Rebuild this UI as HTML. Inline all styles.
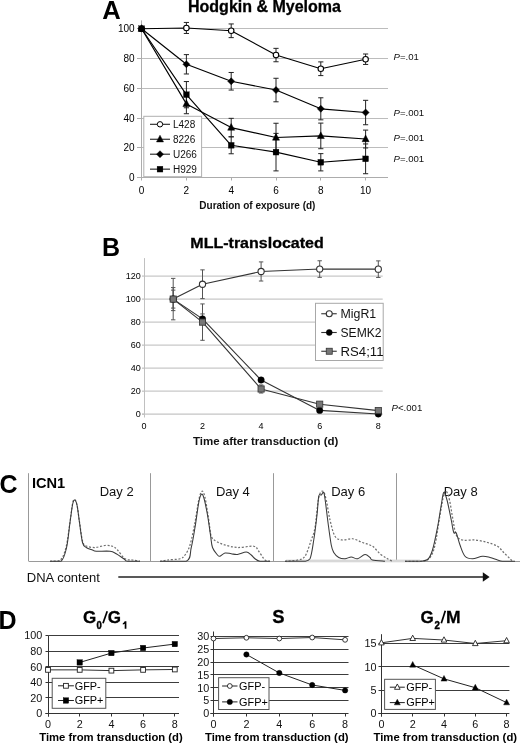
<!DOCTYPE html>
<html><head><meta charset="utf-8"><title>Figure</title>
<style>
html,body{margin:0;padding:0;background:#fff;}
body{width:520px;height:744px;overflow:hidden;}
svg text{font-family:"Liberation Sans", sans-serif;}
svg{will-change:transform;}
</style></head>
<body>
<svg width="520" height="744" viewBox="0 0 520 744" style="display:block">
<rect width="520" height="744" fill="#fff"/>
<text x="102.2" y="18.9" font-size="25.6" text-anchor="start" font-weight="bold" fill="#000"  style="">A</text>
<text x="188" y="12" font-size="16" text-anchor="start" font-weight="bold" fill="#000" stroke="#000" stroke-width="0.3" style="">Hodgkin &amp; Myeloma</text>
<line x1="141.5" y1="147.5" x2="388" y2="147.5" stroke="#bcbcbc" stroke-width="1" />
<line x1="141.5" y1="118.5" x2="388" y2="118.5" stroke="#bcbcbc" stroke-width="1" />
<line x1="141.5" y1="88.5" x2="388" y2="88.5" stroke="#bcbcbc" stroke-width="1" />
<line x1="141.5" y1="58.5" x2="388" y2="58.5" stroke="#bcbcbc" stroke-width="1" />
<line x1="141.5" y1="28.5" x2="388" y2="28.5" stroke="#bcbcbc" stroke-width="1" />
<line x1="141.5" y1="20.4" x2="141.5" y2="180.5" stroke="#acacac" stroke-width="1" />
<line x1="137" y1="177.5" x2="388" y2="177.5" stroke="#acacac" stroke-width="1" />
<line x1="137" y1="147.5" x2="141.5" y2="147.5" stroke="#acacac" stroke-width="1" />
<line x1="137" y1="118.5" x2="141.5" y2="118.5" stroke="#acacac" stroke-width="1" />
<line x1="137" y1="88.5" x2="141.5" y2="88.5" stroke="#acacac" stroke-width="1" />
<line x1="137" y1="58.5" x2="141.5" y2="58.5" stroke="#acacac" stroke-width="1" />
<line x1="137" y1="28.5" x2="141.5" y2="28.5" stroke="#acacac" stroke-width="1" />
<line x1="186.5" y1="177.5" x2="186.5" y2="180.5" stroke="#acacac" stroke-width="1" />
<line x1="231.5" y1="177.5" x2="231.5" y2="180.5" stroke="#acacac" stroke-width="1" />
<line x1="276.5" y1="177.5" x2="276.5" y2="180.5" stroke="#acacac" stroke-width="1" />
<line x1="320.5" y1="177.5" x2="320.5" y2="180.5" stroke="#acacac" stroke-width="1" />
<line x1="365.5" y1="177.5" x2="365.5" y2="180.5" stroke="#acacac" stroke-width="1" />
<text x="134.6" y="181.2" font-size="10" text-anchor="end" font-weight="normal" fill="#000"  style="">0</text>
<text x="134.6" y="151.42" font-size="10" text-anchor="end" font-weight="normal" fill="#000"  style="">20</text>
<text x="134.6" y="121.64" font-size="10" text-anchor="end" font-weight="normal" fill="#000"  style="">40</text>
<text x="134.6" y="91.86" font-size="10" text-anchor="end" font-weight="normal" fill="#000"  style="">60</text>
<text x="134.6" y="62.08" font-size="10" text-anchor="end" font-weight="normal" fill="#000"  style="">80</text>
<text x="134.6" y="32.3" font-size="10" text-anchor="end" font-weight="normal" fill="#000"  style="">100</text>
<text x="141.6" y="193.6" font-size="10" text-anchor="middle" font-weight="normal" fill="#000"  style="">0</text>
<text x="186.4" y="193.6" font-size="10" text-anchor="middle" font-weight="normal" fill="#000"  style="">2</text>
<text x="231.2" y="193.6" font-size="10" text-anchor="middle" font-weight="normal" fill="#000"  style="">4</text>
<text x="276" y="193.6" font-size="10" text-anchor="middle" font-weight="normal" fill="#000"  style="">6</text>
<text x="320.8" y="193.6" font-size="10" text-anchor="middle" font-weight="normal" fill="#000"  style="">8</text>
<text x="365.6" y="193.6" font-size="10" text-anchor="middle" font-weight="normal" fill="#000"  style="">10</text>
<text x="257.4" y="208.6" font-size="10" text-anchor="middle" font-weight="bold" fill="#111"  style="">Duration of exposure (d)</text>
<line x1="186.4" y1="22.45" x2="186.4" y2="33.46" stroke="#222" stroke-width="1" />
<line x1="183.8" y1="22.45" x2="189" y2="22.45" stroke="#222" stroke-width="1" />
<line x1="183.8" y1="33.46" x2="189" y2="33.46" stroke="#222" stroke-width="1" />
<line x1="231.2" y1="23.94" x2="231.2" y2="37.63" stroke="#222" stroke-width="1" />
<line x1="228.6" y1="23.94" x2="233.8" y2="23.94" stroke="#222" stroke-width="1" />
<line x1="228.6" y1="37.63" x2="233.8" y2="37.63" stroke="#222" stroke-width="1" />
<line x1="276" y1="48.35" x2="276" y2="61.76" stroke="#222" stroke-width="1" />
<line x1="273.4" y1="48.35" x2="278.6" y2="48.35" stroke="#222" stroke-width="1" />
<line x1="273.4" y1="61.76" x2="278.6" y2="61.76" stroke="#222" stroke-width="1" />
<line x1="320.8" y1="61.9" x2="320.8" y2="75.6" stroke="#222" stroke-width="1" />
<line x1="318.2" y1="61.9" x2="323.4" y2="61.9" stroke="#222" stroke-width="1" />
<line x1="318.2" y1="75.6" x2="323.4" y2="75.6" stroke="#222" stroke-width="1" />
<line x1="365.6" y1="54.01" x2="365.6" y2="64.44" stroke="#222" stroke-width="1" />
<line x1="363" y1="54.01" x2="368.2" y2="54.01" stroke="#222" stroke-width="1" />
<line x1="363" y1="64.44" x2="368.2" y2="64.44" stroke="#222" stroke-width="1" />
<line x1="186.4" y1="54.61" x2="186.4" y2="73.97" stroke="#222" stroke-width="1" />
<line x1="183.8" y1="54.61" x2="189" y2="54.61" stroke="#222" stroke-width="1" />
<line x1="183.8" y1="73.97" x2="189" y2="73.97" stroke="#222" stroke-width="1" />
<line x1="231.2" y1="72.48" x2="231.2" y2="90.05" stroke="#222" stroke-width="1" />
<line x1="228.6" y1="72.48" x2="233.8" y2="72.48" stroke="#222" stroke-width="1" />
<line x1="228.6" y1="90.05" x2="233.8" y2="90.05" stroke="#222" stroke-width="1" />
<line x1="276" y1="78.28" x2="276" y2="101.81" stroke="#222" stroke-width="1" />
<line x1="273.4" y1="78.28" x2="278.6" y2="78.28" stroke="#222" stroke-width="1" />
<line x1="273.4" y1="101.81" x2="278.6" y2="101.81" stroke="#222" stroke-width="1" />
<line x1="320.8" y1="97.79" x2="320.8" y2="119.83" stroke="#222" stroke-width="1" />
<line x1="318.2" y1="97.79" x2="323.4" y2="97.79" stroke="#222" stroke-width="1" />
<line x1="318.2" y1="119.83" x2="323.4" y2="119.83" stroke="#222" stroke-width="1" />
<line x1="365.6" y1="100.32" x2="365.6" y2="124.74" stroke="#222" stroke-width="1" />
<line x1="363" y1="100.32" x2="368.2" y2="100.32" stroke="#222" stroke-width="1" />
<line x1="363" y1="124.74" x2="368.2" y2="124.74" stroke="#222" stroke-width="1" />
<line x1="186.4" y1="94.07" x2="186.4" y2="113.72" stroke="#222" stroke-width="1" />
<line x1="183.8" y1="94.07" x2="189" y2="94.07" stroke="#222" stroke-width="1" />
<line x1="183.8" y1="113.72" x2="189" y2="113.72" stroke="#222" stroke-width="1" />
<line x1="231.2" y1="118.34" x2="231.2" y2="136.8" stroke="#222" stroke-width="1" />
<line x1="228.6" y1="118.34" x2="233.8" y2="118.34" stroke="#222" stroke-width="1" />
<line x1="228.6" y1="136.8" x2="233.8" y2="136.8" stroke="#222" stroke-width="1" />
<line x1="276" y1="123.25" x2="276" y2="151.84" stroke="#222" stroke-width="1" />
<line x1="273.4" y1="123.25" x2="278.6" y2="123.25" stroke="#222" stroke-width="1" />
<line x1="273.4" y1="151.84" x2="278.6" y2="151.84" stroke="#222" stroke-width="1" />
<line x1="320.8" y1="123.1" x2="320.8" y2="148.71" stroke="#222" stroke-width="1" />
<line x1="318.2" y1="123.1" x2="323.4" y2="123.1" stroke="#222" stroke-width="1" />
<line x1="318.2" y1="148.71" x2="323.4" y2="148.71" stroke="#222" stroke-width="1" />
<line x1="365.6" y1="130.1" x2="365.6" y2="147.97" stroke="#222" stroke-width="1" />
<line x1="363" y1="130.1" x2="368.2" y2="130.1" stroke="#222" stroke-width="1" />
<line x1="363" y1="147.97" x2="368.2" y2="147.97" stroke="#222" stroke-width="1" />
<line x1="186.4" y1="81.56" x2="186.4" y2="107.77" stroke="#222" stroke-width="1" />
<line x1="183.8" y1="81.56" x2="189" y2="81.56" stroke="#222" stroke-width="1" />
<line x1="183.8" y1="107.77" x2="189" y2="107.77" stroke="#222" stroke-width="1" />
<line x1="231.2" y1="136.8" x2="231.2" y2="153.78" stroke="#222" stroke-width="1" />
<line x1="228.6" y1="136.8" x2="233.8" y2="136.8" stroke="#222" stroke-width="1" />
<line x1="228.6" y1="153.78" x2="233.8" y2="153.78" stroke="#222" stroke-width="1" />
<line x1="276" y1="133.38" x2="276" y2="170.9" stroke="#222" stroke-width="1" />
<line x1="273.4" y1="133.38" x2="278.6" y2="133.38" stroke="#222" stroke-width="1" />
<line x1="273.4" y1="170.9" x2="278.6" y2="170.9" stroke="#222" stroke-width="1" />
<line x1="320.8" y1="153.63" x2="320.8" y2="170.9" stroke="#222" stroke-width="1" />
<line x1="318.2" y1="153.63" x2="323.4" y2="153.63" stroke="#222" stroke-width="1" />
<line x1="318.2" y1="170.9" x2="323.4" y2="170.9" stroke="#222" stroke-width="1" />
<line x1="365.6" y1="143.95" x2="365.6" y2="173.73" stroke="#222" stroke-width="1" />
<line x1="363" y1="143.95" x2="368.2" y2="143.95" stroke="#222" stroke-width="1" />
<line x1="363" y1="173.73" x2="368.2" y2="173.73" stroke="#222" stroke-width="1" />
<polyline points="141.6,28.7 186.4,27.96 231.2,30.78 276,55.06 320.8,68.75 365.6,59.22" fill="none" stroke="#000" stroke-width="1.15" stroke-linejoin="round" />
<polyline points="141.6,28.7 186.4,64.29 231.2,81.26 276,90.05 320.8,108.81 365.6,112.53" fill="none" stroke="#000" stroke-width="1.15" stroke-linejoin="round" />
<polyline points="141.6,28.7 186.4,103.89 231.2,127.57 276,137.55 320.8,135.91 365.6,139.03" fill="none" stroke="#000" stroke-width="1.15" stroke-linejoin="round" />
<polyline points="141.6,28.7 186.4,94.66 231.2,145.29 276,152.14 320.8,162.26 365.6,158.84" fill="none" stroke="#000" stroke-width="1.15" stroke-linejoin="round" />
<circle cx="141.6" cy="28.7" r="2.75" fill="#fff" stroke="#000" stroke-width="1.1"/>
<circle cx="186.4" cy="27.96" r="2.75" fill="#fff" stroke="#000" stroke-width="1.1"/>
<circle cx="231.2" cy="30.78" r="2.75" fill="#fff" stroke="#000" stroke-width="1.1"/>
<circle cx="276" cy="55.06" r="2.75" fill="#fff" stroke="#000" stroke-width="1.1"/>
<circle cx="320.8" cy="68.75" r="2.75" fill="#fff" stroke="#000" stroke-width="1.1"/>
<circle cx="365.6" cy="59.22" r="2.75" fill="#fff" stroke="#000" stroke-width="1.1"/>
<polygon points="141.6,25.2 145.1,28.7 141.6,32.2 138.1,28.7" fill="#000" stroke="#000" stroke-width="0.5"/>
<polygon points="186.4,60.79 189.9,64.29 186.4,67.79 182.9,64.29" fill="#000" stroke="#000" stroke-width="0.5"/>
<polygon points="231.2,77.76 234.7,81.26 231.2,84.76 227.7,81.26" fill="#000" stroke="#000" stroke-width="0.5"/>
<polygon points="276,86.55 279.5,90.05 276,93.55 272.5,90.05" fill="#000" stroke="#000" stroke-width="0.5"/>
<polygon points="320.8,105.31 324.3,108.81 320.8,112.31 317.3,108.81" fill="#000" stroke="#000" stroke-width="0.5"/>
<polygon points="365.6,109.03 369.1,112.53 365.6,116.03 362.1,112.53" fill="#000" stroke="#000" stroke-width="0.5"/>
<polygon points="141.6,24.67 145.1,31.32 138.1,31.32" fill="#000" stroke="#000" stroke-width="0.5" stroke-linejoin="miter"/>
<polygon points="186.4,99.87 189.9,106.52 182.9,106.52" fill="#000" stroke="#000" stroke-width="0.5" stroke-linejoin="miter"/>
<polygon points="231.2,123.54 234.7,130.19 227.7,130.19" fill="#000" stroke="#000" stroke-width="0.5" stroke-linejoin="miter"/>
<polygon points="276,133.52 279.5,140.17 272.5,140.17" fill="#000" stroke="#000" stroke-width="0.5" stroke-linejoin="miter"/>
<polygon points="320.8,131.88 324.3,138.53 317.3,138.53" fill="#000" stroke="#000" stroke-width="0.5" stroke-linejoin="miter"/>
<polygon points="365.6,135.01 369.1,141.66 362.1,141.66" fill="#000" stroke="#000" stroke-width="0.5" stroke-linejoin="miter"/>
<rect x="138.7" y="25.8" width="5.8" height="5.8" fill="#000" stroke="#000" stroke-width="0.3"/>
<rect x="183.5" y="91.76" width="5.8" height="5.8" fill="#000" stroke="#000" stroke-width="0.3"/>
<rect x="228.3" y="142.39" width="5.8" height="5.8" fill="#000" stroke="#000" stroke-width="0.3"/>
<rect x="273.1" y="149.24" width="5.8" height="5.8" fill="#000" stroke="#000" stroke-width="0.3"/>
<rect x="317.9" y="159.36" width="5.8" height="5.8" fill="#000" stroke="#000" stroke-width="0.3"/>
<rect x="362.7" y="155.94" width="5.8" height="5.8" fill="#000" stroke="#000" stroke-width="0.3"/>
<rect x="143.8" y="116.3" width="57.8" height="60.4" fill="#fff" stroke="#b0b0b0" stroke-width="1"/>
<line x1="150" y1="124.3" x2="170" y2="124.3" stroke="#222" stroke-width="1.1" />
<circle cx="160" cy="124.3" r="2.7" fill="#fff" stroke="#000" stroke-width="1"/>
<text x="173" y="127.9" font-size="10" text-anchor="start" font-weight="normal" fill="#111"  style="">L428</text>
<line x1="150" y1="139.25" x2="170" y2="139.25" stroke="#222" stroke-width="1.1" />
<polygon points="160,135.22 163.5,141.88 156.5,141.88" fill="#000" stroke="#000" stroke-width="0.5" stroke-linejoin="miter"/>
<text x="173" y="142.85" font-size="10" text-anchor="start" font-weight="normal" fill="#111"  style="">8226</text>
<line x1="150" y1="154.2" x2="170" y2="154.2" stroke="#222" stroke-width="1.1" />
<polygon points="160,150.7 163.5,154.2 160,157.7 156.5,154.2" fill="#000" stroke="#000" stroke-width="0.5"/>
<text x="173" y="157.8" font-size="10" text-anchor="start" font-weight="normal" fill="#111"  style="">U266</text>
<line x1="150" y1="169.15" x2="170" y2="169.15" stroke="#222" stroke-width="1.1" />
<rect x="157.1" y="166.25" width="5.8" height="5.8" fill="#000" stroke="#000" stroke-width="0.3"/>
<text x="173" y="172.75" font-size="10" text-anchor="start" font-weight="normal" fill="#111"  style="">H929</text>
<text x="393.5" y="60" font-size="9.6" fill="#111"><tspan font-style="italic">P</tspan>=.01</text>
<text x="393.5" y="115.6" font-size="9.6" fill="#111"><tspan font-style="italic">P</tspan>=.001</text>
<text x="393.5" y="141.3" font-size="9.6" fill="#111"><tspan font-style="italic">P</tspan>=.001</text>
<text x="393.5" y="162.2" font-size="9.6" fill="#111"><tspan font-style="italic">P</tspan>=.001</text>
<text x="102" y="255.8" font-size="25" text-anchor="start" font-weight="bold" fill="#000"  style="">B</text>
<text x="190.3" y="248.2" font-size="15" text-anchor="start" font-weight="bold" fill="#000" stroke="#000" stroke-width="0.3" textLength="133.5" lengthAdjust="spacingAndGlyphs" style="">MLL-translocated</text>
<line x1="144.5" y1="391.18" x2="382.7" y2="391.18" stroke="#c8c8c8" stroke-width="1.3" />
<line x1="144.5" y1="368.16" x2="382.7" y2="368.16" stroke="#c8c8c8" stroke-width="1.3" />
<line x1="144.5" y1="345.14" x2="382.7" y2="345.14" stroke="#c8c8c8" stroke-width="1.3" />
<line x1="144.5" y1="322.12" x2="382.7" y2="322.12" stroke="#c8c8c8" stroke-width="1.3" />
<line x1="144.5" y1="299.1" x2="382.7" y2="299.1" stroke="#c8c8c8" stroke-width="1.3" />
<line x1="144.5" y1="276.08" x2="382.7" y2="276.08" stroke="#c8c8c8" stroke-width="1.3" />
<line x1="144.5" y1="258.1" x2="144.5" y2="417.5" stroke="#c0c0c0" stroke-width="1" />
<line x1="142" y1="414.2" x2="382.7" y2="414.2" stroke="#c4c4c4" stroke-width="1.3" />
<line x1="142" y1="414.2" x2="144.5" y2="414.2" stroke="#c0c0c0" stroke-width="1.2" />
<text x="140.8" y="417.2" font-size="9" text-anchor="end" font-weight="normal" fill="#000"  style="">0</text>
<line x1="142" y1="391.18" x2="144.5" y2="391.18" stroke="#c0c0c0" stroke-width="1.2" />
<text x="140.8" y="394.18" font-size="9" text-anchor="end" font-weight="normal" fill="#000"  style="">20</text>
<line x1="142" y1="368.16" x2="144.5" y2="368.16" stroke="#c0c0c0" stroke-width="1.2" />
<text x="140.8" y="371.16" font-size="9" text-anchor="end" font-weight="normal" fill="#000"  style="">40</text>
<line x1="142" y1="345.14" x2="144.5" y2="345.14" stroke="#c0c0c0" stroke-width="1.2" />
<text x="140.8" y="348.14" font-size="9" text-anchor="end" font-weight="normal" fill="#000"  style="">60</text>
<line x1="142" y1="322.12" x2="144.5" y2="322.12" stroke="#c0c0c0" stroke-width="1.2" />
<text x="140.8" y="325.12" font-size="9" text-anchor="end" font-weight="normal" fill="#000"  style="">80</text>
<line x1="142" y1="299.1" x2="144.5" y2="299.1" stroke="#c0c0c0" stroke-width="1.2" />
<text x="140.8" y="302.1" font-size="9" text-anchor="end" font-weight="normal" fill="#000"  style="">100</text>
<line x1="142" y1="276.08" x2="144.5" y2="276.08" stroke="#c0c0c0" stroke-width="1.2" />
<text x="140.8" y="279.08" font-size="9" text-anchor="end" font-weight="normal" fill="#000"  style="">120</text>
<text x="143.9" y="428.8" font-size="9" text-anchor="middle" font-weight="normal" fill="#000"  style="">0</text>
<text x="202.5" y="428.8" font-size="9" text-anchor="middle" font-weight="normal" fill="#000"  style="">2</text>
<text x="261.1" y="428.8" font-size="9" text-anchor="middle" font-weight="normal" fill="#000"  style="">4</text>
<text x="319.7" y="428.8" font-size="9" text-anchor="middle" font-weight="normal" fill="#000"  style="">6</text>
<text x="378.3" y="428.8" font-size="9" text-anchor="middle" font-weight="normal" fill="#000"  style="">8</text>
<text x="265.7" y="445" font-size="11.5" text-anchor="middle" font-weight="bold" fill="#111"  style="">Time after transduction (d)</text>
<line x1="173.2" y1="278.38" x2="173.2" y2="319.82" stroke="#555" stroke-width="1" />
<line x1="171" y1="278.38" x2="175.4" y2="278.38" stroke="#555" stroke-width="1" />
<line x1="171" y1="319.82" x2="175.4" y2="319.82" stroke="#555" stroke-width="1" />
<line x1="202.5" y1="269.86" x2="202.5" y2="298.64" stroke="#555" stroke-width="1" />
<line x1="200.3" y1="269.86" x2="204.7" y2="269.86" stroke="#555" stroke-width="1" />
<line x1="200.3" y1="298.64" x2="204.7" y2="298.64" stroke="#555" stroke-width="1" />
<line x1="261.1" y1="261.92" x2="261.1" y2="281.03" stroke="#555" stroke-width="1" />
<line x1="258.9" y1="261.92" x2="263.3" y2="261.92" stroke="#555" stroke-width="1" />
<line x1="258.9" y1="281.03" x2="263.3" y2="281.03" stroke="#555" stroke-width="1" />
<line x1="319.7" y1="260.77" x2="319.7" y2="277.35" stroke="#555" stroke-width="1" />
<line x1="317.5" y1="260.77" x2="321.9" y2="260.77" stroke="#555" stroke-width="1" />
<line x1="317.5" y1="277.35" x2="321.9" y2="277.35" stroke="#555" stroke-width="1" />
<line x1="378.3" y1="260.89" x2="378.3" y2="277.46" stroke="#555" stroke-width="1" />
<line x1="376.1" y1="260.89" x2="380.5" y2="260.89" stroke="#555" stroke-width="1" />
<line x1="376.1" y1="277.46" x2="380.5" y2="277.46" stroke="#555" stroke-width="1" />
<line x1="173.2" y1="287.59" x2="173.2" y2="310.61" stroke="#555" stroke-width="1" />
<line x1="171" y1="287.59" x2="175.4" y2="287.59" stroke="#555" stroke-width="1" />
<line x1="171" y1="310.61" x2="175.4" y2="310.61" stroke="#555" stroke-width="1" />
<line x1="202.5" y1="313.95" x2="202.5" y2="323.85" stroke="#555" stroke-width="1" />
<line x1="200.3" y1="313.95" x2="204.7" y2="313.95" stroke="#555" stroke-width="1" />
<line x1="200.3" y1="323.85" x2="204.7" y2="323.85" stroke="#555" stroke-width="1" />
<line x1="173.2" y1="290.12" x2="173.2" y2="308.08" stroke="#555" stroke-width="1" />
<line x1="171" y1="290.12" x2="175.4" y2="290.12" stroke="#555" stroke-width="1" />
<line x1="171" y1="308.08" x2="175.4" y2="308.08" stroke="#555" stroke-width="1" />
<line x1="202.5" y1="303.93" x2="202.5" y2="340.31" stroke="#555" stroke-width="1" />
<line x1="200.3" y1="303.93" x2="204.7" y2="303.93" stroke="#555" stroke-width="1" />
<line x1="200.3" y1="340.31" x2="204.7" y2="340.31" stroke="#555" stroke-width="1" />
<line x1="261.1" y1="384.96" x2="261.1" y2="393.02" stroke="#555" stroke-width="1" />
<line x1="258.9" y1="384.96" x2="263.3" y2="384.96" stroke="#555" stroke-width="1" />
<line x1="258.9" y1="393.02" x2="263.3" y2="393.02" stroke="#555" stroke-width="1" />
<polyline points="173.2,299.1 202.5,284.25 261.1,271.48 319.7,269.06 378.3,269.17" fill="none" stroke="#333" stroke-width="1.1" stroke-linejoin="round" />
<polyline points="173.2,299.1 202.5,318.9 261.1,380.02 319.7,410.4 378.3,413.97" fill="none" stroke="#333" stroke-width="1.1" stroke-linejoin="round" />
<polyline points="173.2,299.1 202.5,322.12 261.1,388.99 319.7,404.19 378.3,410.63" fill="none" stroke="#333" stroke-width="1.1" stroke-linejoin="round" />
<circle cx="173.2" cy="299.1" r="3.1" fill="#fff" stroke="#333" stroke-width="1.1"/>
<circle cx="202.5" cy="284.25" r="3.1" fill="#fff" stroke="#333" stroke-width="1.1"/>
<circle cx="261.1" cy="271.48" r="3.1" fill="#fff" stroke="#333" stroke-width="1.1"/>
<circle cx="319.7" cy="269.06" r="3.1" fill="#fff" stroke="#333" stroke-width="1.1"/>
<circle cx="378.3" cy="269.17" r="3.1" fill="#fff" stroke="#333" stroke-width="1.1"/>
<circle cx="173.2" cy="299.1" r="3.2" fill="#000" stroke="#000" stroke-width="0.5"/>
<circle cx="202.5" cy="318.9" r="3.2" fill="#000" stroke="#000" stroke-width="0.5"/>
<circle cx="261.1" cy="380.02" r="3.2" fill="#000" stroke="#000" stroke-width="0.5"/>
<circle cx="319.7" cy="410.4" r="3.2" fill="#000" stroke="#000" stroke-width="0.5"/>
<circle cx="378.3" cy="413.97" r="3.2" fill="#000" stroke="#000" stroke-width="0.5"/>
<rect x="170.1" y="296" width="6.2" height="6.2" fill="#777" stroke="#333" stroke-width="0.8"/>
<rect x="199.4" y="319.02" width="6.2" height="6.2" fill="#777" stroke="#333" stroke-width="0.8"/>
<rect x="258" y="385.89" width="6.2" height="6.2" fill="#777" stroke="#333" stroke-width="0.8"/>
<rect x="316.6" y="401.09" width="6.2" height="6.2" fill="#777" stroke="#333" stroke-width="0.8"/>
<rect x="375.2" y="407.53" width="6.2" height="6.2" fill="#777" stroke="#333" stroke-width="0.8"/>
<rect x="315.5" y="303.3" width="67.7" height="57.2" fill="#fff" stroke="#a8a8a8" stroke-width="1"/>
<svg x="315.5" y="303.3" width="67.7" height="57.2" overflow="hidden">
<line x1="5.75" y1="10.45" x2="21.25" y2="10.45" stroke="#333" stroke-width="1.1" />
<circle cx="13.75" cy="10.45" r="3" fill="#fff" stroke="#333" stroke-width="1.1"/>
<text x="25" y="14.75" font-size="12" text-anchor="start" font-weight="normal" fill="#111" textLength="35.7" lengthAdjust="spacingAndGlyphs" style="">MigR1</text>
<line x1="5.75" y1="29.2" x2="21.25" y2="29.2" stroke="#333" stroke-width="1.1" />
<circle cx="13.75" cy="29.2" r="3" fill="#000" stroke="#000" stroke-width="0.5"/>
<text x="25" y="33.5" font-size="12" text-anchor="start" font-weight="normal" fill="#111" textLength="41" lengthAdjust="spacingAndGlyphs" style="">SEMK2</text>
<line x1="5.75" y1="47.95" x2="21.25" y2="47.95" stroke="#333" stroke-width="1.1" />
<rect x="10.75" y="44.95" width="6" height="6" fill="#777" stroke="#333" stroke-width="0.8"/>
<text x="25" y="52.25" font-size="12" text-anchor="start" font-weight="normal" fill="#111" textLength="43" lengthAdjust="spacingAndGlyphs" style="">RS4;11</text>
</svg>
<text x="391.6" y="411" font-size="9.6" fill="#111"><tspan font-style="italic">P</tspan>&lt;.001</text>
<text x="-0.6" y="492.5" font-size="25" text-anchor="start" font-weight="bold" fill="#000"  style="">C</text>
<text x="31.9" y="487.7" font-size="15.3" text-anchor="start" font-weight="bold" fill="#000" textLength="33.3" lengthAdjust="spacingAndGlyphs" style="">ICN1</text>
<line x1="28.5" y1="473.2" x2="28.5" y2="561" stroke="#999" stroke-width="1" />
<line x1="150.5" y1="473.2" x2="150.5" y2="561" stroke="#999" stroke-width="1" />
<line x1="273.5" y1="473.2" x2="273.5" y2="561" stroke="#999" stroke-width="1" />
<line x1="396.5" y1="473.2" x2="396.5" y2="561" stroke="#999" stroke-width="1" />
<line x1="28.5" y1="561.5" x2="520" y2="561.5" stroke="#9a9a9a" stroke-width="1" />
<rect x="286" y="559.6" width="134" height="2.7" fill="#d8d8d8"/>
<text x="99.7" y="496.3" font-size="13" text-anchor="start" font-weight="normal" fill="#111"  style="">Day 2</text>
<text x="215.9" y="496.3" font-size="13" text-anchor="start" font-weight="normal" fill="#111"  style="">Day 4</text>
<text x="331.2" y="496.3" font-size="13" text-anchor="start" font-weight="normal" fill="#111"  style="">Day 6</text>
<text x="443.7" y="496.3" font-size="13" text-anchor="start" font-weight="normal" fill="#111"  style="">Day 8</text>
<text x="26.8" y="581.8" font-size="13" text-anchor="start" font-weight="normal" fill="#111"  style="">DNA content</text>
<line x1="118.3" y1="577" x2="484" y2="577" stroke="#222" stroke-width="1.5" />
<polygon points="482.8,572.3 489.6,577 482.8,581.8" fill="#111"/>
<path d="M50,561.3 C51.67,561.17 57.33,561.3 60,560.5 C62.67,558.2 64.33,553.92 66,547.5 C67.67,541.08 68.92,529.25 70,522 C71.08,514.75 71.75,507.75 72.5,504 C73.25,500.25 73.75,499.33 74.5,499.5 C75.25,499.67 76.17,501.25 77,505 C77.83,508.75 78.58,516 79.5,522 C80.42,528 81.38,537 82.5,541 C83.62,545 84.17,544.92 86.25,546 C88.33,547.08 91.88,547.58 95,547.5 C98.12,547.42 102.08,545.71 105,545.5 C107.92,545.29 110.42,545.5 112.5,546.25 C114.58,547 115.42,547.92 117.5,550 C119.58,552.08 122.5,557.08 125,558.75 C127.5,560.42 130,559.58 132.5,560 C135,560.42 138.75,561.08 140,561.3" fill="none" stroke="#707070" stroke-width="1.25" stroke-dasharray="2,1.7"/>
<path d="M160,561.3 C161.25,561.08 164.17,560.42 167.5,560 C170.83,559.58 177.08,559.58 180,558.75 C182.92,557.92 183.33,557.29 185,555 C186.67,552.71 188.33,550.42 190,545 C191.67,539.58 193.54,530 195,522.5 C196.46,515 197.58,505.21 198.75,500 C199.92,494.79 200.96,491.67 202,491.25 C203.04,490.83 203.88,492.71 205,497.5 C206.12,502.29 207.71,513.54 208.75,520 C209.79,526.46 210,532.71 211.25,536.25 C212.5,539.79 213.96,539.79 216.25,541.25 C218.54,542.71 221.46,543.96 225,545 C228.54,546.04 232.71,547.29 237.5,547.5 C242.29,547.71 250.21,545.62 253.75,546.25 C257.29,546.88 256.88,548.96 258.75,551.25 C260.62,553.54 263.12,558.33 265,560 C266.88,561.3 269.17,561.08 270,561.3" fill="none" stroke="#707070" stroke-width="1.25" stroke-dasharray="2,1.7"/>
<path d="M285,561.3 C287.08,561.08 294.17,560.84 297.5,560 C300.83,559.16 302.71,559.58 305,556.25 C307.29,552.92 309.58,544.79 311.25,540 C312.92,535.21 313.75,534.58 315,527.5 C316.25,520.42 317.42,503.54 318.75,497.5 C320.08,491.46 321.75,490.83 323,491.25 C324.25,491.67 325.08,495.21 326.25,500 C327.42,504.79 328.54,513.96 330,520 C331.46,526.04 332.92,532.92 335,536.25 C337.08,539.58 339.58,539.58 342.5,540 C345.42,540.42 349.17,538.33 352.5,538.75 C355.83,539.17 359.17,541.25 362.5,542.5 C365.83,543.75 369.58,544.38 372.5,546.25 C375.42,548.12 377.5,551.67 380,553.75 C382.5,555.83 385.42,557.49 387.5,558.75 C389.58,560.01 391.67,560.88 392.5,561.3" fill="none" stroke="#707070" stroke-width="1.25" stroke-dasharray="2,1.7"/>
<path d="M405,561.3 C407.92,561.3 418.33,561.3 422.5,561.3 C426.67,560.67 427.92,560.22 430,557.5 C432.08,554.78 433.33,552.08 435,545 C436.67,537.92 438.54,523.33 440,515 C441.46,506.67 442.71,498.96 443.75,495 C444.79,491.04 445.29,490.42 446.25,491.25 C447.21,492.08 448.38,495.21 449.5,500 C450.62,504.79 451.88,514.17 453,520 C454.12,525.83 454.67,531.67 456.25,535 C457.83,538.33 459.38,539.17 462.5,540 C465.62,540.83 470.83,539.58 475,540 C479.17,540.42 483.75,541.46 487.5,542.5 C491.25,543.54 494.79,544.58 497.5,546.25 C500.21,547.92 501.67,550.42 503.75,552.5 C505.83,554.58 508.54,557.28 510,558.75 C511.46,560.22 512.08,560.88 512.5,561.3" fill="none" stroke="#707070" stroke-width="1.25" stroke-dasharray="2,1.7"/>
<path d="M50,561.3 C51.83,561.3 58.25,561.3 61,561.3 C63.75,559.08 65,554.47 66.5,548 C68,541.53 69,529.67 70,522.5 C71,515.33 71.75,508.75 72.5,505 C73.25,501.25 73.75,500 74.5,500 C75.25,500 76.17,501.25 77,505 C77.83,508.75 78.58,516.25 79.5,522.5 C80.42,528.75 81.38,538.33 82.5,542.5 C83.62,546.67 84.58,546.25 86.25,547.5 C87.92,548.75 90.83,549.38 92.5,550 C94.17,550.62 93.33,551.04 96.25,551.25 C99.17,551.46 106.67,550.83 110,551.25 C113.33,551.67 113.96,552.5 116.25,553.75 C118.54,555 121.88,557.49 123.75,558.75 C125.62,560.01 124.79,560.88 127.5,561.3 C130.21,561.3 137.92,561.3 140,561.3" fill="none" stroke="#3a3a3a" stroke-width="1.05" stroke-linejoin="round"/>
<path d="M160,561.3 C164.38,561.3 181.04,561.3 186.25,561.3 C191.46,559 189.79,553.13 191.25,547.5 C192.71,541.87 193.75,535 195,527.5 C196.25,520 197.71,508 198.75,502.5 C199.79,497 200.42,495.33 201.25,494.5 C202.08,493.67 202.71,494.08 203.75,497.5 C204.79,500.92 206.38,508.75 207.5,515 C208.62,521.25 209.67,529.58 210.5,535 C211.33,540.42 211.33,544.17 212.5,547.5 C213.67,550.83 216.25,553.54 217.5,555 C218.75,556.46 218.75,556.58 220,556.25 C221.25,555.92 223.12,553.42 225,553 C226.88,552.58 229.17,553.5 231.25,553.75 C233.33,554 235,554.79 237.5,554.5 C240,554.21 243.96,551.92 246.25,552 C248.54,552.08 249.79,553.88 251.25,555 C252.71,556.12 253.54,557.7 255,558.75 C256.46,559.8 257.5,560.88 260,561.3 C262.5,561.3 268.33,561.3 270,561.3" fill="none" stroke="#3a3a3a" stroke-width="1.05" stroke-linejoin="round"/>
<path d="M285,561.3 C288.12,561.3 299.58,561.3 303.75,561.3 C307.92,560.88 308.33,561.3 310,558.75 C311.67,555.2 312.58,547.29 313.75,540 C314.92,532.71 316.17,522.29 317,515 C317.83,507.71 318.04,499.58 318.75,496.25 C319.46,492.92 320.42,495.62 321.25,495 C322.08,494.38 323.04,491.25 323.75,492.5 C324.46,493.75 324.79,497.5 325.5,502.5 C326.21,507.5 327.04,515.42 328,522.5 C328.96,529.58 330.29,540 331.25,545 C332.21,550 332.5,550.42 333.75,552.5 C335,554.58 336.88,556.46 338.75,557.5 C340.62,558.54 342.92,558.83 345,558.75 C347.08,558.67 349.17,557 351.25,557 C353.33,557 355.21,559.17 357.5,558.75 C359.79,558.33 362.92,554.71 365,554.5 C367.08,554.29 368.75,556.58 370,557.5 C371.25,558.42 370,559.37 372.5,560 C375,560.63 382.92,561.08 385,561.3" fill="none" stroke="#3a3a3a" stroke-width="1.05" stroke-linejoin="round"/>
<path d="M405,561.3 C407.08,561.3 413.75,561.3 417.5,561.3 C421.25,561 425,561.3 427.5,559.5 C430,557.62 430.83,555.33 432.5,550 C434.17,544.67 436.04,535 437.5,527.5 C438.96,520 440.21,510.83 441.25,505 C442.29,499.17 442.79,493.33 443.75,492.5 C444.71,491.67 445.75,495.42 447,500 C448.25,504.58 450.12,514.58 451.25,520 C452.38,525.42 452.92,530.33 453.75,532.5 C454.58,534.67 455.21,530.92 456.25,533 C457.29,535.08 458.54,541.12 460,545 C461.46,548.88 462.92,553.96 465,556.25 C467.08,558.54 469.58,558.75 472.5,558.75 C475.42,558.75 479.58,556.46 482.5,556.25 C485.42,556.04 487.5,556.88 490,557.5 C492.5,558.12 495.42,559.37 497.5,560 C499.58,560.63 499.58,561.08 502.5,561.3 C505.42,561.3 512.92,561.3 515,561.3" fill="none" stroke="#3a3a3a" stroke-width="1.05" stroke-linejoin="round"/>
<text x="-1.6" y="629.2" font-size="25" text-anchor="start" font-weight="bold" fill="#000"  style="">D</text>
<text x="0" y="0" font-size="17" font-weight="bold" fill="#000" stroke="#000" stroke-width="0.3" transform="translate(82.9,623.2) scale(1.0,1)">G</text>
<text x="0" y="0" font-size="10.5" font-weight="bold" fill="#000" stroke="#000" stroke-width="0.45" transform="translate(96.5,628.9) scale(0.9,1)">0</text>
<line x1="103" y1="623.3" x2="107.2" y2="611.2" stroke="#000" stroke-width="1.7" />
<text x="0" y="0" font-size="17" font-weight="bold" fill="#000" stroke="#000" stroke-width="0.3" transform="translate(107.7,623.2) scale(1.0,1)">G</text>
<path d="M124.7,621.3 L126.4,621.3 L126.4,628.7 L124.7,628.7 L124.7,623.7 Q123.9,624.4 122.8,624.6 L122.8,623.2 Q124.1,622.7 124.7,621.3 Z" fill="#000"/>
<line x1="48.5" y1="697.5" x2="179" y2="697.5" stroke="#3c3c3c" stroke-width="1.1" />
<line x1="48.5" y1="682.5" x2="179" y2="682.5" stroke="#3c3c3c" stroke-width="1.1" />
<line x1="48.5" y1="666.5" x2="179" y2="666.5" stroke="#3c3c3c" stroke-width="1.1" />
<line x1="48.5" y1="651.5" x2="179" y2="651.5" stroke="#3c3c3c" stroke-width="1.1" />
<line x1="48.5" y1="635.5" x2="179" y2="635.5" stroke="#3c3c3c" stroke-width="1.1" />
<line x1="48.5" y1="635.5" x2="48.5" y2="716.5" stroke="#333" stroke-width="1" />
<line x1="45.5" y1="713.5" x2="179" y2="713.5" stroke="#333" stroke-width="1" />
<line x1="45.5" y1="713.5" x2="48.5" y2="713.5" stroke="#333" stroke-width="1" />
<text x="42.3" y="717.4" font-size="10.8" text-anchor="end" font-weight="normal" fill="#111"  style="">0</text>
<line x1="45.5" y1="697.5" x2="48.5" y2="697.5" stroke="#333" stroke-width="1" />
<text x="42.3" y="701.78" font-size="10.8" text-anchor="end" font-weight="normal" fill="#111"  style="">20</text>
<line x1="45.5" y1="682.5" x2="48.5" y2="682.5" stroke="#333" stroke-width="1" />
<text x="42.3" y="686.16" font-size="10.8" text-anchor="end" font-weight="normal" fill="#111"  style="">40</text>
<line x1="45.5" y1="666.5" x2="48.5" y2="666.5" stroke="#333" stroke-width="1" />
<text x="42.3" y="670.54" font-size="10.8" text-anchor="end" font-weight="normal" fill="#111"  style="">60</text>
<line x1="45.5" y1="651.5" x2="48.5" y2="651.5" stroke="#333" stroke-width="1" />
<text x="42.3" y="654.92" font-size="10.8" text-anchor="end" font-weight="normal" fill="#111"  style="">80</text>
<line x1="45.5" y1="635.5" x2="48.5" y2="635.5" stroke="#333" stroke-width="1" />
<text x="42.3" y="639.3" font-size="10.8" text-anchor="end" font-weight="normal" fill="#111"  style="">100</text>
<line x1="48.5" y1="713.5" x2="48.5" y2="716.5" stroke="#333" stroke-width="1" />
<text x="48" y="727.6" font-size="10.8" text-anchor="middle" font-weight="normal" fill="#111"  style="">0</text>
<line x1="79.5" y1="713.5" x2="79.5" y2="716.5" stroke="#333" stroke-width="1" />
<text x="79.7" y="727.6" font-size="10.8" text-anchor="middle" font-weight="normal" fill="#111"  style="">2</text>
<line x1="111.5" y1="713.5" x2="111.5" y2="716.5" stroke="#333" stroke-width="1" />
<text x="111.4" y="727.6" font-size="10.8" text-anchor="middle" font-weight="normal" fill="#111"  style="">4</text>
<line x1="143.5" y1="713.5" x2="143.5" y2="716.5" stroke="#333" stroke-width="1" />
<text x="143.1" y="727.6" font-size="10.8" text-anchor="middle" font-weight="normal" fill="#111"  style="">6</text>
<line x1="174.5" y1="713.5" x2="174.5" y2="716.5" stroke="#333" stroke-width="1" />
<text x="174.8" y="727.6" font-size="10.8" text-anchor="middle" font-weight="normal" fill="#111"  style="">8</text>
<polyline points="48,669.86 79.7,669.86 111.4,670.64 143.1,669.86 174.8,669.47" fill="none" stroke="#333" stroke-width="1" stroke-linejoin="round" />
<polyline points="79.7,662.44 111.4,653.07 143.1,648 174.8,644.09" fill="none" stroke="#222" stroke-width="1" stroke-linejoin="round" />
<rect x="45.6" y="667.46" width="4.8" height="4.8" fill="#fff" stroke="#222" stroke-width="0.9"/>
<rect x="77.3" y="667.46" width="4.8" height="4.8" fill="#fff" stroke="#222" stroke-width="0.9"/>
<rect x="109" y="668.25" width="4.8" height="4.8" fill="#fff" stroke="#222" stroke-width="0.9"/>
<rect x="140.7" y="667.46" width="4.8" height="4.8" fill="#fff" stroke="#222" stroke-width="0.9"/>
<rect x="172.4" y="667.07" width="4.8" height="4.8" fill="#fff" stroke="#222" stroke-width="0.9"/>
<rect x="77" y="659.74" width="5.4" height="5.4" fill="#000" stroke="#000" stroke-width="0.4"/>
<rect x="108.7" y="650.37" width="5.4" height="5.4" fill="#000" stroke="#000" stroke-width="0.4"/>
<rect x="140.4" y="645.3" width="5.4" height="5.4" fill="#000" stroke="#000" stroke-width="0.4"/>
<rect x="172.1" y="641.39" width="5.4" height="5.4" fill="#000" stroke="#000" stroke-width="0.4"/>
<rect x="52.2" y="678.3" width="53.6" height="30" fill="#fff" stroke="#555" stroke-width="1"/>
<line x1="58" y1="685.8" x2="73.9" y2="685.8" stroke="#222" stroke-width="1" />
<rect x="63.55" y="683.4" width="4.8" height="4.8" fill="#fff" stroke="#222" stroke-width="0.9"/>
<text x="74.7" y="689.6" font-size="10.9" text-anchor="start" font-weight="normal" fill="#000"  style="">GFP-</text>
<line x1="58" y1="700.5" x2="73.9" y2="700.5" stroke="#222" stroke-width="1" />
<rect x="63.25" y="697.8" width="5.4" height="5.4" fill="#000" stroke="#000" stroke-width="0.4"/>
<text x="74.7" y="704.3" font-size="10.9" text-anchor="start" font-weight="normal" fill="#000"  style="">GFP+</text>
<text x="111" y="741.2" font-size="11.3" text-anchor="middle" font-weight="bold" fill="#000"  style="">Time from transduction (d)</text>
<text x="278.3" y="622.6" font-size="18.4" text-anchor="middle" font-weight="bold" fill="#000" stroke="#000" stroke-width="0.3" style="">S</text>
<line x1="213.5" y1="700.5" x2="348.5" y2="700.5" stroke="#3c3c3c" stroke-width="1.1" />
<line x1="213.5" y1="687.5" x2="348.5" y2="687.5" stroke="#3c3c3c" stroke-width="1.1" />
<line x1="213.5" y1="674.5" x2="348.5" y2="674.5" stroke="#3c3c3c" stroke-width="1.1" />
<line x1="213.5" y1="662.5" x2="348.5" y2="662.5" stroke="#3c3c3c" stroke-width="1.1" />
<line x1="213.5" y1="649.5" x2="348.5" y2="649.5" stroke="#3c3c3c" stroke-width="1.1" />
<line x1="213.5" y1="636.5" x2="348.5" y2="636.5" stroke="#3c3c3c" stroke-width="1.1" />
<line x1="213.5" y1="631.5" x2="213.5" y2="716.5" stroke="#333" stroke-width="1" />
<line x1="210.5" y1="713.5" x2="348.5" y2="713.5" stroke="#333" stroke-width="1" />
<line x1="210.5" y1="713.5" x2="213.5" y2="713.5" stroke="#333" stroke-width="1" />
<text x="209.2" y="717.3" font-size="10.8" text-anchor="end" font-weight="normal" fill="#111"  style="">0</text>
<line x1="210.5" y1="700.5" x2="213.5" y2="700.5" stroke="#333" stroke-width="1" />
<text x="209.2" y="704.46" font-size="10.8" text-anchor="end" font-weight="normal" fill="#111"  style="">5</text>
<line x1="210.5" y1="687.5" x2="213.5" y2="687.5" stroke="#333" stroke-width="1" />
<text x="209.2" y="691.63" font-size="10.8" text-anchor="end" font-weight="normal" fill="#111"  style="">10</text>
<line x1="210.5" y1="674.5" x2="213.5" y2="674.5" stroke="#333" stroke-width="1" />
<text x="209.2" y="678.79" font-size="10.8" text-anchor="end" font-weight="normal" fill="#111"  style="">15</text>
<line x1="210.5" y1="662.5" x2="213.5" y2="662.5" stroke="#333" stroke-width="1" />
<text x="209.2" y="665.96" font-size="10.8" text-anchor="end" font-weight="normal" fill="#111"  style="">20</text>
<line x1="210.5" y1="649.5" x2="213.5" y2="649.5" stroke="#333" stroke-width="1" />
<text x="209.2" y="653.12" font-size="10.8" text-anchor="end" font-weight="normal" fill="#111"  style="">25</text>
<line x1="210.5" y1="636.5" x2="213.5" y2="636.5" stroke="#333" stroke-width="1" />
<text x="209.2" y="640.29" font-size="10.8" text-anchor="end" font-weight="normal" fill="#111"  style="">30</text>
<line x1="213.5" y1="713.5" x2="213.5" y2="716.5" stroke="#333" stroke-width="1" />
<text x="213.5" y="727.6" font-size="10.8" text-anchor="middle" font-weight="normal" fill="#111"  style="">0</text>
<line x1="246.5" y1="713.5" x2="246.5" y2="716.5" stroke="#333" stroke-width="1" />
<text x="246.4" y="727.6" font-size="10.8" text-anchor="middle" font-weight="normal" fill="#111"  style="">2</text>
<line x1="279.5" y1="713.5" x2="279.5" y2="716.5" stroke="#333" stroke-width="1" />
<text x="279.3" y="727.6" font-size="10.8" text-anchor="middle" font-weight="normal" fill="#111"  style="">4</text>
<line x1="312.5" y1="713.5" x2="312.5" y2="716.5" stroke="#333" stroke-width="1" />
<text x="312.2" y="727.6" font-size="10.8" text-anchor="middle" font-weight="normal" fill="#111"  style="">6</text>
<line x1="345.5" y1="713.5" x2="345.5" y2="716.5" stroke="#333" stroke-width="1" />
<text x="345.1" y="727.6" font-size="10.8" text-anchor="middle" font-weight="normal" fill="#111"  style="">8</text>
<polyline points="213.5,638.54 246.4,637.77 279.3,638.54 312.2,637.52 345.1,639.83" fill="none" stroke="#333" stroke-width="1" stroke-linejoin="round" />
<polyline points="246.4,654.46 279.3,672.94 312.2,685.01 345.1,690.4" fill="none" stroke="#222" stroke-width="1" stroke-linejoin="round" />
<circle cx="213.5" cy="638.54" r="2.4" fill="#fff" stroke="#222" stroke-width="0.9"/>
<circle cx="246.4" cy="637.77" r="2.4" fill="#fff" stroke="#222" stroke-width="0.9"/>
<circle cx="279.3" cy="638.54" r="2.4" fill="#fff" stroke="#222" stroke-width="0.9"/>
<circle cx="312.2" cy="637.52" r="2.4" fill="#fff" stroke="#222" stroke-width="0.9"/>
<circle cx="345.1" cy="639.83" r="2.4" fill="#fff" stroke="#222" stroke-width="0.9"/>
<circle cx="246.4" cy="654.46" r="2.7" fill="#000" stroke="#000" stroke-width="0.4"/>
<circle cx="279.3" cy="672.94" r="2.7" fill="#000" stroke="#000" stroke-width="0.4"/>
<circle cx="312.2" cy="685.01" r="2.7" fill="#000" stroke="#000" stroke-width="0.4"/>
<circle cx="345.1" cy="690.4" r="2.7" fill="#000" stroke="#000" stroke-width="0.4"/>
<rect x="218.6" y="677.7" width="50.4" height="31.8" fill="#fff" stroke="#555" stroke-width="1"/>
<line x1="222.1" y1="686" x2="237.5" y2="686" stroke="#222" stroke-width="1" />
<circle cx="229.8" cy="686" r="2.4" fill="#fff" stroke="#222" stroke-width="0.9"/>
<text x="239.1" y="689.8" font-size="10.9" text-anchor="start" font-weight="normal" fill="#000"  style="">GFP-</text>
<line x1="222.1" y1="701.9" x2="237.5" y2="701.9" stroke="#222" stroke-width="1" />
<circle cx="229.8" cy="701.9" r="2.7" fill="#000" stroke="#000" stroke-width="0.4"/>
<text x="239.1" y="705.7" font-size="10.9" text-anchor="start" font-weight="normal" fill="#000"  style="">GFP+</text>
<text x="276.8" y="741.2" font-size="11.3" text-anchor="middle" font-weight="bold" fill="#000"  style="">Time from transduction (d)</text>
<text x="0" y="0" font-size="17" font-weight="bold" fill="#000" stroke="#000" stroke-width="0.3" transform="translate(420.6,623.2) scale(1.0,1)">G</text>
<text x="0" y="0" font-size="10.2" font-weight="bold" fill="#000" stroke="#000" stroke-width="0.45" transform="translate(434.6,628.6) scale(0.95,1)">2</text>
<line x1="441.3" y1="623.2" x2="445.3" y2="610.8" stroke="#000" stroke-width="1.7" />
<text x="0" y="0" font-size="17" font-weight="bold" fill="#000" stroke="#000" stroke-width="0.3" transform="translate(446.0,623.1) scale(1.03,1)">M</text>
<line x1="381.5" y1="690.5" x2="509.4" y2="690.5" stroke="#3c3c3c" stroke-width="1.1" />
<line x1="381.5" y1="666.5" x2="509.4" y2="666.5" stroke="#3c3c3c" stroke-width="1.1" />
<line x1="381.5" y1="643.5" x2="509.4" y2="643.5" stroke="#3c3c3c" stroke-width="1.1" />
<line x1="381.5" y1="634.2" x2="381.5" y2="716.5" stroke="#333" stroke-width="1" />
<line x1="378.5" y1="713.5" x2="509.4" y2="713.5" stroke="#333" stroke-width="1" />
<line x1="378.5" y1="713.5" x2="381.5" y2="713.5" stroke="#333" stroke-width="1" />
<text x="376.6" y="717.1" font-size="10.8" text-anchor="end" font-weight="normal" fill="#111"  style="">0</text>
<line x1="378.5" y1="690.5" x2="381.5" y2="690.5" stroke="#333" stroke-width="1" />
<text x="376.6" y="693.83" font-size="10.8" text-anchor="end" font-weight="normal" fill="#111"  style="">5</text>
<line x1="378.5" y1="666.5" x2="381.5" y2="666.5" stroke="#333" stroke-width="1" />
<text x="376.6" y="670.57" font-size="10.8" text-anchor="end" font-weight="normal" fill="#111"  style="">10</text>
<line x1="378.5" y1="643.5" x2="381.5" y2="643.5" stroke="#333" stroke-width="1" />
<text x="376.6" y="647.3" font-size="10.8" text-anchor="end" font-weight="normal" fill="#111"  style="">15</text>
<line x1="381.5" y1="713.5" x2="381.5" y2="716.5" stroke="#333" stroke-width="1" />
<text x="381.4" y="727.6" font-size="10.8" text-anchor="middle" font-weight="normal" fill="#111"  style="">0</text>
<line x1="412.5" y1="713.5" x2="412.5" y2="716.5" stroke="#333" stroke-width="1" />
<text x="412.7" y="727.6" font-size="10.8" text-anchor="middle" font-weight="normal" fill="#111"  style="">2</text>
<line x1="444.5" y1="713.5" x2="444.5" y2="716.5" stroke="#333" stroke-width="1" />
<text x="444" y="727.6" font-size="10.8" text-anchor="middle" font-weight="normal" fill="#111"  style="">4</text>
<line x1="475.5" y1="713.5" x2="475.5" y2="716.5" stroke="#333" stroke-width="1" />
<text x="475.3" y="727.6" font-size="10.8" text-anchor="middle" font-weight="normal" fill="#111"  style="">6</text>
<line x1="506.5" y1="713.5" x2="506.5" y2="716.5" stroke="#333" stroke-width="1" />
<text x="506.6" y="727.6" font-size="10.8" text-anchor="middle" font-weight="normal" fill="#111"  style="">8</text>
<polyline points="381.4,642.81 412.7,638.39 444,640.02 475.3,643.5 506.6,640.71" fill="none" stroke="#333" stroke-width="1" stroke-linejoin="round" />
<polyline points="412.7,664.91 444,678.87 475.3,687.71 506.6,702.6" fill="none" stroke="#222" stroke-width="1" stroke-linejoin="round" />
<polygon points="381.4,639.59 384.2,644.91 378.6,644.91" fill="#fff" stroke="#222" stroke-width="0.9" stroke-linejoin="miter"/>
<polygon points="412.7,635.17 415.5,640.49 409.9,640.49" fill="#fff" stroke="#222" stroke-width="0.9" stroke-linejoin="miter"/>
<polygon points="444,636.8 446.8,642.12 441.2,642.12" fill="#fff" stroke="#222" stroke-width="0.9" stroke-linejoin="miter"/>
<polygon points="475.3,640.28 478.1,645.61 472.5,645.61" fill="#fff" stroke="#222" stroke-width="0.9" stroke-linejoin="miter"/>
<polygon points="506.6,637.49 509.4,642.81 503.8,642.81" fill="#fff" stroke="#222" stroke-width="0.9" stroke-linejoin="miter"/>
<polygon points="412.7,661.46 415.7,667.16 409.7,667.16" fill="#000" stroke="#000" stroke-width="0.4" stroke-linejoin="miter"/>
<polygon points="444,675.42 447,681.12 441,681.12" fill="#000" stroke="#000" stroke-width="0.4" stroke-linejoin="miter"/>
<polygon points="475.3,684.26 478.3,689.96 472.3,689.96" fill="#000" stroke="#000" stroke-width="0.4" stroke-linejoin="miter"/>
<polygon points="506.6,699.15 509.6,704.85 503.6,704.85" fill="#000" stroke="#000" stroke-width="0.4" stroke-linejoin="miter"/>
<rect x="384.6" y="679.3" width="50.8" height="30.1" fill="#fff" stroke="#555" stroke-width="1"/>
<line x1="389.8" y1="687.2" x2="404.8" y2="687.2" stroke="#222" stroke-width="1" />
<polygon points="397.3,683.98 400.1,689.3 394.5,689.3" fill="#fff" stroke="#222" stroke-width="0.9" stroke-linejoin="miter"/>
<text x="406.2" y="691" font-size="10.9" text-anchor="start" font-weight="normal" fill="#000"  style="">GFP-</text>
<line x1="389.8" y1="702.6" x2="404.8" y2="702.6" stroke="#222" stroke-width="1" />
<polygon points="397.3,699.15 400.3,704.85 394.3,704.85" fill="#000" stroke="#000" stroke-width="0.4" stroke-linejoin="miter"/>
<text x="406.2" y="706.4" font-size="10.9" text-anchor="start" font-weight="normal" fill="#000"  style="">GFP+</text>
<text x="445.3" y="741.2" font-size="11.3" text-anchor="middle" font-weight="bold" fill="#000"  style="">Time from transduction (d)</text>
</svg>
</body></html>
